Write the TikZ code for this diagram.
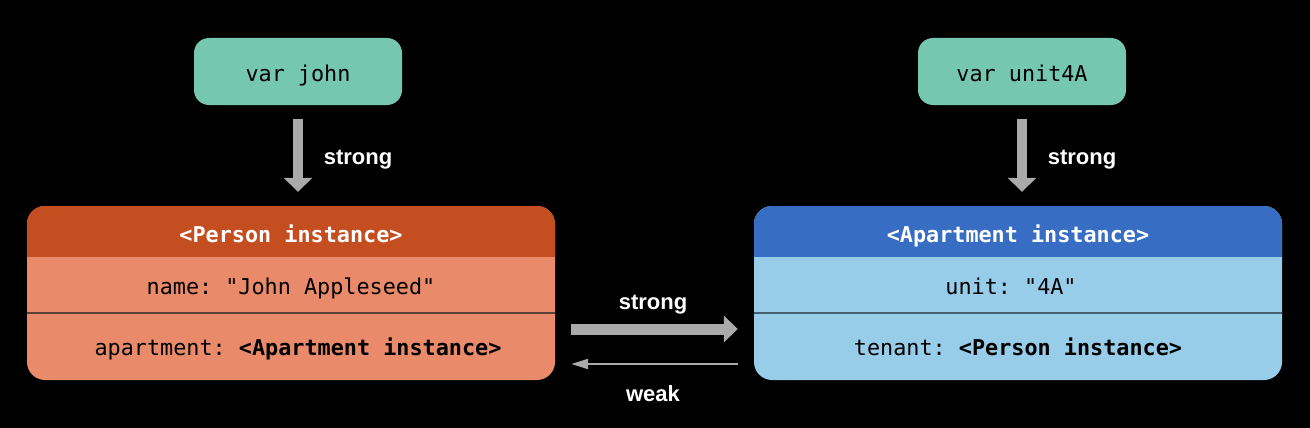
\documentclass[tikz,border=0pt]{standalone}
\usepackage{fontspec}
\setmainfont{Liberation Sans}
\setmonofont{DejaVu Sans Mono}
\usetikzlibrary{arrows.meta}
\definecolor{teal}{HTML}{76C7B0}
\definecolor{personhead}{HTML}{C54E21}
\definecolor{personbody}{HTML}{E98A6A}
\definecolor{apthead}{HTML}{386DC4}
\definecolor{aptbody}{HTML}{98CDE9}
\definecolor{arrowgray}{HTML}{AAAAAA}
\definecolor{persondiv}{HTML}{5A4038}
\definecolor{aptdiv}{HTML}{48606E}
\begin{document}
\begin{tikzpicture}[x=1pt,y=-1pt,
  varbox/.style={fill=teal, rounded corners=15pt, minimum width=208pt, minimum height=67pt, inner sep=0pt},
  vartxt/.style={anchor=base, font=\fontsize{21.8}{24}\ttfamily, text=black, inner sep=0pt},
  objbox/.style={rounded corners=18pt, minimum width=528pt, minimum height=174pt, inner sep=0pt},
  hdrtxt/.style={anchor=base, font=\fontsize{21.8}{24}\ttfamily\bfseries, text=white, inner sep=0pt},
  rowtxt/.style={anchor=base, font=\fontsize{21.8}{24}\ttfamily, text=black, inner sep=0pt},
  lbl/.style={anchor=base, font=\fontsize{22}{24}\selectfont\bfseries, text=white, inner sep=0pt},
  bigarrow/.style={draw=arrowgray, line width=10pt, -{Triangle[width=28pt,length=14pt]}, shorten <=14pt, shorten >=14pt},
  sidearrow/.style={draw=arrowgray, line width=11pt, -{Triangle[width=26pt,length=14pt]}, shorten <=16pt, shorten >=16pt},
  weakarrow/.style={draw=arrowgray, line width=2pt, -{Triangle[width=10pt,length=17pt]}, shorten <=16pt, shorten >=16pt}]
\fill[black] (0,0) rectangle (1310,428);
\useasboundingbox (0,0) rectangle (1310,428);

\node[varbox] (john) at (298,71.5) {};
\node[vartxt] (johntxt) at (298,81.7) {var john};
\node[varbox] (unit) at (1022,71.5) {};
\node[vartxt] (unittxt) at (1022,81.7) {var unit4A};

\node[objbox, fill=personbody, path picture={
  \fill[personhead, sharp corners] (path picture bounding box.north west) rectangle ([yshift=-51pt]path picture bounding box.north east);
  \draw[persondiv, line width=2pt, sharp corners] ([yshift=-107pt]path picture bounding box.north west) -- ([yshift=-107pt]path picture bounding box.north east);
}] (person) at (291,293) {};
\node[objbox, fill=aptbody, path picture={
  \fill[apthead, sharp corners] (path picture bounding box.north west) rectangle ([yshift=-51pt]path picture bounding box.north east);
  \draw[aptdiv, line width=2pt, sharp corners] ([yshift=-107pt]path picture bounding box.north west) -- ([yshift=-107pt]path picture bounding box.north east);
}] (apt) at (1018,293) {};

\node[hdrtxt] (personhdr) at (291,242.7) {<Person instance>};
\node[rowtxt] (personname) at (291,294) {name: "John Appleseed"};
\node[rowtxt] (personapt) at (298,355.7) {apartment: \textbf{<Apartment instance>}};

\node[hdrtxt] (apthdr) at (1018,242.7) {<Apartment instance>};
\node[rowtxt] (aptunit) at (1011,294) {unit: "4A"};
\node[rowtxt] (apttenant) at (1018,355.7) {tenant: \textbf{<Person instance>}};

\draw[bigarrow] (john.south) -- (john.south |- person.north);
\draw[bigarrow] (unit.south) -- (unit.south |- apt.north);
\draw[sidearrow] ([yshift=-36pt]person.east) -- ([yshift=-36pt]apt.west);
\draw[weakarrow] ([yshift=-71pt]apt.west) -- ([yshift=-71pt]person.east);

\node[lbl] (l1) at (358,164) {strong};
\node[lbl] (l2) at (1082,164) {strong};
\node[lbl] (l3) at (653,309.3) {strong};
\node[lbl] (l4) at (653,401) {weak};
\end{tikzpicture}
\end{document}
